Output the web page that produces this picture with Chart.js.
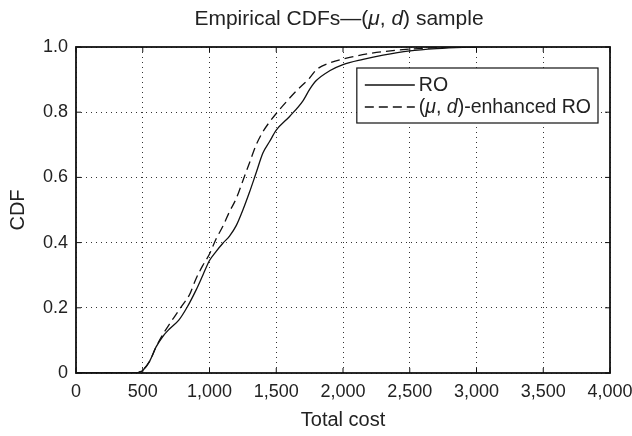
<!DOCTYPE html>
<html>
<head>
<meta charset="utf-8">
<script src="https://cdn.jsdelivr.net/npm/chart.js@4/dist/chart.umd.min.js"></script>
<style>
html,body{margin:0;padding:0;background:#fff;}
#wrap{width:632px;height:436px;position:relative;}
</style>
</head>
<body>
<div id="wrap"><canvas id="c" width="632" height="436"></canvas></div>
<script>
// ---- data ----
const roCost = [0, 450, 500, 550, 600, 650, 700, 770, 830, 900, 950, 1000, 1050, 1100, 1150, 1200, 1250, 1300, 1350, 1400, 1450, 1500, 1600, 1700, 1750, 1800, 1900, 2000, 2150, 2300, 2500, 2700, 2900, 3000];
const roCdf  = [0, 0, 0.008, 0.035, 0.08, 0.112, 0.135, 0.162, 0.20, 0.255, 0.30, 0.345, 0.373, 0.398, 0.42, 0.452, 0.50, 0.555, 0.615, 0.675, 0.71, 0.745, 0.787, 0.835, 0.87, 0.897, 0.927, 0.946, 0.962, 0.975, 0.988, 0.995, 0.999, 1.0];
const enhCost = [0, 450, 500, 550, 600, 650, 700, 750, 800, 850, 900, 950, 1000, 1050, 1100, 1150, 1200, 1250, 1300, 1350, 1400, 1450, 1550, 1650, 1750, 1800, 1900, 2050, 2200, 2400, 2600, 2800, 3000];
const enhCdf  = [0, 0, 0.01, 0.035, 0.08, 0.118, 0.15, 0.18, 0.21, 0.24, 0.29, 0.33, 0.365, 0.412, 0.45, 0.495, 0.535, 0.59, 0.645, 0.70, 0.74, 0.77, 0.82, 0.865, 0.905, 0.93, 0.951, 0.968, 0.98, 0.99, 0.996, 0.999, 1.0];
const seriesLabels = ['RO', '(\u03bc, d)-enhanced RO'];
const xTicks = [0, 500, 1000, 1500, 2000, 2500, 3000, 3500, 4000];
const yTicks = [0, 0.2, 0.4, 0.6, 0.8, 1.0];

const FONT = '"Liberation Sans", Arial, Helvetica, sans-serif';

function pts(xs, ys){ return xs.map((x,i)=>({x:x, y:ys[i]})); }

// rich-text segments: [text, italic]
const titleSegs = [['Empirical CDFs\u2014(', false], ['\u03bc', true], [', ', false], ['d', true], [') sample', false]];
const legendSegs = [
  [['RO', false]],
  [['(', false], ['\u03bc', true], [', ', false], ['d', true], [')-enhanced RO', false]]
];

function segWidth(ctx, segs, size){
  let w = 0;
  for (const [t, it] of segs){ ctx.font = (it?'italic ':'') + size + 'px ' + FONT; w += ctx.measureText(t).width; }
  return w;
}
function drawSegs(ctx, segs, x, y, size){
  for (const [t, it] of segs){ ctx.font = (it?'italic ':'') + size + 'px ' + FONT; ctx.fillText(t, x, y); x += ctx.measureText(t).width; }
}

const framePlugin = {
  id: 'frame',
  afterDatasetsDraw(chart){
    const {ctx, chartArea:a, scales} = chart;
    ctx.save();
    // box
    ctx.strokeStyle = '#111';
    ctx.lineWidth = 1.8;
    ctx.setLineDash([]);
    ctx.strokeRect(a.left, a.top, a.right - a.left, a.bottom - a.top);
    // inward tick marks
    ctx.lineWidth = 1;
    const tl = 5;
    ctx.beginPath();
    for (const v of xTicks){
      const px = scales.x.getPixelForValue(v);
      ctx.moveTo(px, a.bottom); ctx.lineTo(px, a.bottom - tl);
      ctx.moveTo(px, a.top); ctx.lineTo(px, a.top + tl);
    }
    for (const v of yTicks){
      const py = scales.y.getPixelForValue(v);
      ctx.moveTo(a.left, py); ctx.lineTo(a.left + tl, py);
      ctx.moveTo(a.right, py); ctx.lineTo(a.right - tl, py);
    }
    ctx.stroke();

    // legend box
    const size = 19.5;
    const w0 = segWidth(ctx, legendSegs[0], size);
    const w1 = segWidth(ctx, legendSegs[1], size);
    const tw = Math.max(w0, w1);
    const boxW = 8 + 50 + 4 + tw + 7;
    const boxR = a.right - 12;
    const boxL = boxR - boxW;
    const boxT = a.top + 21;
    const boxH = 55;
    ctx.fillStyle = '#fff';
    ctx.fillRect(boxL, boxT, boxW, boxH);
    ctx.strokeStyle = '#111';
    ctx.lineWidth = 1.2;
    ctx.strokeRect(boxL, boxT, boxW, boxH);
    const rows = [boxT + 17, boxT + 39];
    chart.data.datasets.forEach((ds, i) => {
      const y = rows[i];
      ctx.beginPath();
      ctx.setLineDash(ds.borderDash || []);
      ctx.lineWidth = ds.borderWidth;
      ctx.strokeStyle = ds.borderColor;
      ctx.moveTo(boxL + 8, y); ctx.lineTo(boxL + 58, y);
      ctx.stroke();
      ctx.setLineDash([]);
      ctx.fillStyle = '#222';
      ctx.textBaseline = 'middle';
      drawSegs(ctx, legendSegs[i], boxL + 62, y + 1, size);
    });

    // title
    const ts = 21;
    const ttw = segWidth(ctx, titleSegs, ts);
    ctx.fillStyle = '#222';
    ctx.textBaseline = 'alphabetic';
    drawSegs(ctx, titleSegs, (a.left + a.right) / 2 - 4 - ttw / 2, 25, ts);
    ctx.restore();
  }
};

new Chart(document.getElementById('c'), {
  type: 'line',
  data: {
    datasets: [
      { label: seriesLabels[0], data: pts(roCost, roCdf), borderColor: '#111', borderWidth: 1.3,
        pointRadius: 0, fill: false, cubicInterpolationMode: 'monotone' },
      { label: seriesLabels[1], data: pts(enhCost, enhCdf), borderColor: '#111', borderWidth: 1.3,
        borderDash: [9, 5], pointRadius: 0, fill: false, cubicInterpolationMode: 'monotone' }
    ]
  },
  options: {
    responsive: false,
    animation: false,
    devicePixelRatio: 1,
    layout: { padding: { top: 47, right: 22, left: 0, bottom: 0 } },
    plugins: { legend: { display: false }, title: { display: false }, tooltip: { enabled: false } },
    scales: {
      x: {
        type: 'linear', min: 0, max: 4000,
        afterBuildTicks(s){ s.ticks = xTicks.map(v => ({value: v})); },
        afterFit(s){ s.height = 63; s.paddingRight = 0; s.paddingLeft = 0; },
        grid: { color: '#333', lineWidth: 1, drawTicks: false },
        border: { display: false, dash: [1, 4] },
        ticks: { color: '#222', padding: 8, font: { family: FONT, size: 18 },
          callback: v => v.toLocaleString('en-US') },
        title: { display: true, text: 'Total cost', color: '#222', font: { family: FONT, size: 20 },
          padding: { top: 0, bottom: 4 } }
      },
      y: {
        type: 'linear', min: 0, max: 1,
        afterBuildTicks(s){ s.ticks = yTicks.map(v => ({value: v})); },
        afterFit(s){ s.width = 76; s.paddingTop = 0; s.paddingBottom = 0; },
        grid: { color: '#333', lineWidth: 1, drawTicks: false },
        border: { display: false, dash: [1, 4] },
        ticks: { color: '#222', padding: 8, font: { family: FONT, size: 18 },
          callback: v => v === 0 ? '0' : v.toFixed(1) },
        title: { display: true, text: 'CDF', color: '#222', font: { family: FONT, size: 20 },
          padding: { top: 6, bottom: 0 } }
      }
    }
  },
  plugins: [framePlugin]
});
</script>
</body>
</html>
